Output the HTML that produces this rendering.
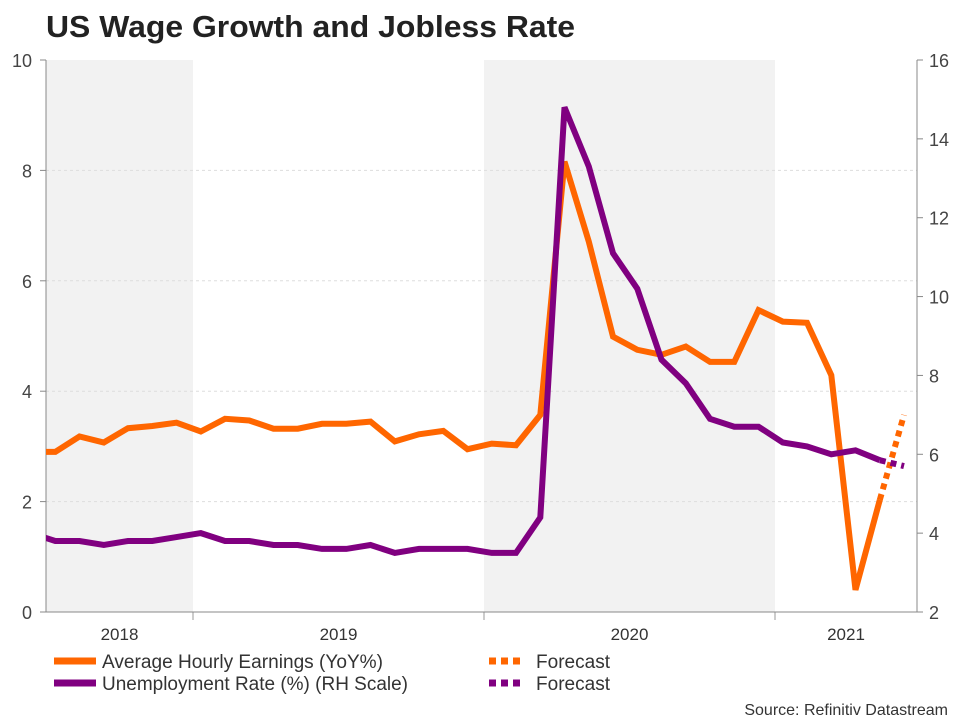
<!DOCTYPE html>
<html><head><meta charset="utf-8"><style>
body{margin:0;background:#fff;font-family:"Liberation Sans",Arial,sans-serif}
svg text{font-family:"Liberation Sans",Arial,sans-serif}
</style></head><body>
<svg id="chart" width="960" height="720" viewBox="0 0 960 720">
<text x="46" y="37" font-size="31" font-weight="bold" fill="#222" textLength="529" lengthAdjust="spacingAndGlyphs">US Wage Growth and Jobless Rate</text>
<g id="bands"></g><g id="grid"></g><g id="axes"></g><g id="series"></g>
<g>
<line x1="54" y1="661" x2="96" y2="661" stroke="#ff6600" stroke-width="7"/>
<text x="102" y="668" font-size="19" fill="#333" textLength="281" lengthAdjust="spacingAndGlyphs">Average Hourly Earnings (YoY%)</text>
<line x1="54" y1="683" x2="96" y2="683" stroke="#800080" stroke-width="7"/>
<text x="102" y="690" font-size="19" fill="#333" textLength="306" lengthAdjust="spacingAndGlyphs">Unemployment Rate (%) (RH Scale)</text>
<line x1="489" y1="661" x2="524" y2="661" stroke="#ff6600" stroke-width="7" stroke-dasharray="7,5"/>
<text x="536" y="668" font-size="19" fill="#333" textLength="74" lengthAdjust="spacingAndGlyphs">Forecast</text>
<line x1="489" y1="683" x2="524" y2="683" stroke="#800080" stroke-width="7" stroke-dasharray="7,5"/>
<text x="536" y="690" font-size="19" fill="#333" textLength="74" lengthAdjust="spacingAndGlyphs">Forecast</text>
</g>
<text x="948" y="715" font-size="16" fill="#333" text-anchor="end">Source: Refinitiv Datastream</text>
</svg>
<script>
const months = ["Jun18","Jul18","Aug18","Sep18","Oct18","Nov18","Dec18","Jan19","Feb19","Mar19","Apr19","May19","Jun19","Jul19","Aug19","Sep19","Oct19","Nov19","Dec19","Jan20","Feb20","Mar20","Apr20","May20","Jun20","Jul20","Aug20","Sep20","Oct20","Nov20","Dec20","Jan21","Feb21","Mar21","Apr21","May21"];
const earnings = [2.9,2.9,3.18,3.07,3.33,3.37,3.43,3.27,3.5,3.47,3.32,3.32,3.41,3.41,3.45,3.09,3.22,3.28,2.95,3.05,3.02,3.57,8.16,6.71,4.99,4.75,4.66,4.81,4.53,4.53,5.47,5.26,5.24,4.29,0.4,2.03];
const earningsForecast = [2.03,3.57];
const unemployment = [4.0,3.8,3.8,3.7,3.8,3.8,3.9,4.0,3.8,3.8,3.7,3.7,3.6,3.6,3.7,3.5,3.6,3.6,3.6,3.5,3.5,4.4,14.8,13.3,11.1,10.2,8.4,7.8,6.9,6.7,6.7,6.3,6.2,6.0,6.1,5.85];
const unemploymentForecast = [5.85,5.7];
const leftTicks = [0,2,4,6,8,10];
const rightTicks = [2,4,6,8,10,12,14,16];
const years = ["2018","2019","2020","2021"];

const NS="http://www.w3.org/2000/svg";
const L=46,R=917,T=60,B=612;
const xs=i=>31+24.25*i;
const yl=v=>B-(v-0)/10*(B-T);
const yr=v=>B-(v-2)/14*(B-T);
function mk(tag,attrs,parent,text){const e=document.createElementNS(NS,tag);for(const k in attrs)e.setAttribute(k,attrs[k]);if(text!==undefined)e.textContent=text;parent.appendChild(e);return e;}
const bands=document.getElementById('bands'),grid=document.getElementById('grid'),axes=document.getElementById('axes'),series=document.getElementById('series');
const bounds=[L,193,484,775,R];
for(let i=0;i<4;i++){
  if(i%2===0){const r=mk('rect',{x:bounds[i],y:T,width:bounds[i+1]-bounds[i],height:B-T,fill:'#f2f2f2'},bands);
  
  }
  const t=mk('text',{x:(bounds[i]+bounds[i+1])/2,y:640,'font-size':17,fill:'#333','text-anchor':'middle'},axes,years[i]);
  
  
  if(i>0){const tk=mk('line',{x1:bounds[i],x2:bounds[i],y1:B,y2:B+8,stroke:'#999'},axes);
  
  }
}
leftTicks.forEach(v=>{
  const y=yl(v);
  if(v>0&&v<10){const g=mk('line',{x1:L,x2:R,y1:y,y2:y,stroke:'#ddd','stroke-dasharray':'3,3'},grid);
  
  }
  const tk=mk('line',{x1:L-6,x2:L,y1:y,y2:y,stroke:'#888'},axes);
  
  
  const t=mk('text',{x:L-14,y:y+7,'font-size':18,fill:'#444','text-anchor':'end'},axes,String(v));
  
  
});
rightTicks.forEach(v=>{
  const y=yr(v);
  const tk=mk('line',{x1:R,x2:R+6,y1:y,y2:y,stroke:'#888'},axes);
  
  
  const t=mk('text',{x:R+12,y:y+7,'font-size':18,fill:'#444'},axes,String(v));
  
  
});
const la=mk('line',{x1:L,x2:L,y1:T,y2:B,stroke:'#888'},axes);


const ra=mk('line',{x1:R,x2:R,y1:T,y2:B,stroke:'#888'},axes);


const xa=mk('line',{x1:40,x2:R,y1:B,y2:B,stroke:'#888'},axes);


mk('clipPath',{id:'clip'},document.getElementById('chart'));
mk('rect',{x:L,y:0,width:R-L,height:B},document.getElementById('clip'));
series.setAttribute('clip-path','url(#clip)');
function pts(arr,f,off){return arr.map((v,i)=>xs(i+off).toFixed(1)+','+f(v).toFixed(1)).join(' ');}
const n=earnings.length-1;
const p1=mk('polyline',{points:pts(earnings,yl,0),fill:'none',stroke:'#ff6600','stroke-width':6,'stroke-linejoin':'miter'},series);


const p2=mk('polyline',{points:pts(unemployment,yr,0),fill:'none',stroke:'#800080','stroke-width':6,'stroke-linejoin':'miter'},series);


const p3=mk('polyline',{points:pts(earningsForecast,yl,n),fill:'none',stroke:'#ff6600','stroke-width':6,'stroke-dasharray':'6,5'},series);


const p4=mk('polyline',{points:pts(unemploymentForecast,yr,n),fill:'none',stroke:'#800080','stroke-width':6,'stroke-dasharray':'6,5'},series);


</script>
</body></html>
